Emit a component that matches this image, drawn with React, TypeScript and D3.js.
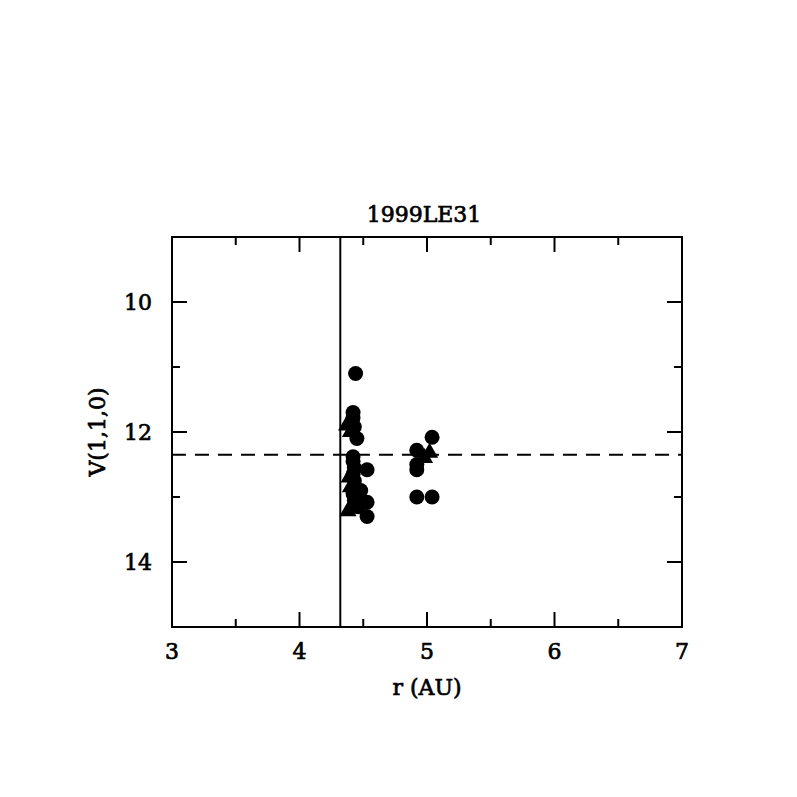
import React from "react";
import * as d3 from "d3";

const title = "1999LE31";
const xLabel = "r (AU)";
const yLabel = "V(1,1,0)";
const xTicksMajor = [3, 4, 5, 6, 7];
const xTicksMinor = [3.5, 4.5, 5.5, 6.5];
const yTicksMajor = [10, 12, 14];
const yTicksMinor = [11, 13];
const verticalLineR = 4.32;
const meanV = 12.35;

const circlesR = [4.44, 4.42, 4.42, 4.43, 4.45, 4.42, 4.42, 4.43, 4.53, 4.42, 4.43, 4.44, 4.48, 4.42, 4.45, 4.43, 4.53, 4.46, 4.53, 4.92, 4.92, 4.92, 5.04, 4.92, 5.04];
const circlesV = [11.10, 11.70, 11.78, 11.92, 12.10, 12.38, 12.45, 12.55, 12.58, 12.65, 12.75, 12.85, 12.90, 12.95, 13.00, 13.05, 13.08, 13.15, 13.30, 12.28, 12.50, 12.58, 12.08, 13.00, 13.00];
const trianglesR = [4.37, 4.40, 4.39, 4.40, 4.38, 5.02, 4.98];
const trianglesV = [11.90, 12.00, 12.70, 12.85, 13.22, 12.32, 12.40];

const FONT = "'DejaVu Serif', serif";
const textStyle = { fontFamily: FONT, fontSize: 22, stroke: "black", strokeWidth: 0.7 } as const;

export default function App() {
  const W = 797, H = 797;
  const x = d3.scaleLinear().domain([3, 7]).range([172, 682]);
  const y = d3.scaleLinear().domain([9, 15]).range([237, 627]);
  const [x0, x1] = x.range();
  const [y0, y1] = y.range();
  const major = 15, minor = 8;
  const tri = d3.symbol().type(d3.symbolTriangle).size(130)();

  return (
    <svg width={W} height={H} style={{ position: "absolute", left: 0, top: 0, background: "white" }}>
      <rect x={0} y={0} width={W} height={H} fill="white" />
      {circlesR.map((r, i) => (
        <circle key={"c" + i} cx={x(r)} cy={y(circlesV[i])} r={7.5} fill="black" />
      ))}
      {trianglesR.map((r, i) => (
        <path key={"t" + i} d={tri!} transform={`translate(${x(r)},${y(trianglesV[i])})`} fill="black" />
      ))}
      <line x1={x(verticalLineR)} x2={x(verticalLineR)} y1={y0} y2={y1} stroke="black" strokeWidth={2} />
      <line x1={x0} x2={x1} y1={y(meanV)} y2={y(meanV)} stroke="black" strokeWidth={2} strokeDasharray="14,9" />
      <rect x={x0} y={y0} width={x1 - x0} height={y1 - y0} fill="none" stroke="black" strokeWidth={2} />
      {xTicksMajor.map((t) => (
        <g key={"xm" + t}>
          <line x1={x(t)} x2={x(t)} y1={y1} y2={y1 - major} stroke="black" strokeWidth={2} />
          <line x1={x(t)} x2={x(t)} y1={y0} y2={y0 + major} stroke="black" strokeWidth={2} />
          <text x={x(t)} y={659} textAnchor="middle" style={textStyle}>{t}</text>
        </g>
      ))}
      {xTicksMinor.map((t) => (
        <g key={"xn" + t}>
          <line x1={x(t)} x2={x(t)} y1={y1} y2={y1 - minor} stroke="black" strokeWidth={2} />
          <line x1={x(t)} x2={x(t)} y1={y0} y2={y0 + minor} stroke="black" strokeWidth={2} />
        </g>
      ))}
      {yTicksMajor.map((t) => (
        <g key={"ym" + t}>
          <line x1={x0} x2={x0 + major} y1={y(t)} y2={y(t)} stroke="black" strokeWidth={2} />
          <line x1={x1} x2={x1 - major} y1={y(t)} y2={y(t)} stroke="black" strokeWidth={2} />
          <text x={152} y={y(t) + 8} textAnchor="end" style={textStyle}>{t}</text>
        </g>
      ))}
      {yTicksMinor.map((t) => (
        <g key={"yn" + t}>
          <line x1={x0} x2={x0 + minor} y1={y(t)} y2={y(t)} stroke="black" strokeWidth={2} />
          <line x1={x1} x2={x1 - minor} y1={y(t)} y2={y(t)} stroke="black" strokeWidth={2} />
        </g>
      ))}
      <text x={424} y={222} textAnchor="middle" style={textStyle}>{title}</text>
      <text x={427} y={695} textAnchor="middle" style={textStyle}>{xLabel}</text>
      <text transform={`translate(105,${(y0 + y1) / 2}) rotate(-90)`} textAnchor="middle" style={textStyle}>{yLabel}</text>
    </svg>
  );
}
